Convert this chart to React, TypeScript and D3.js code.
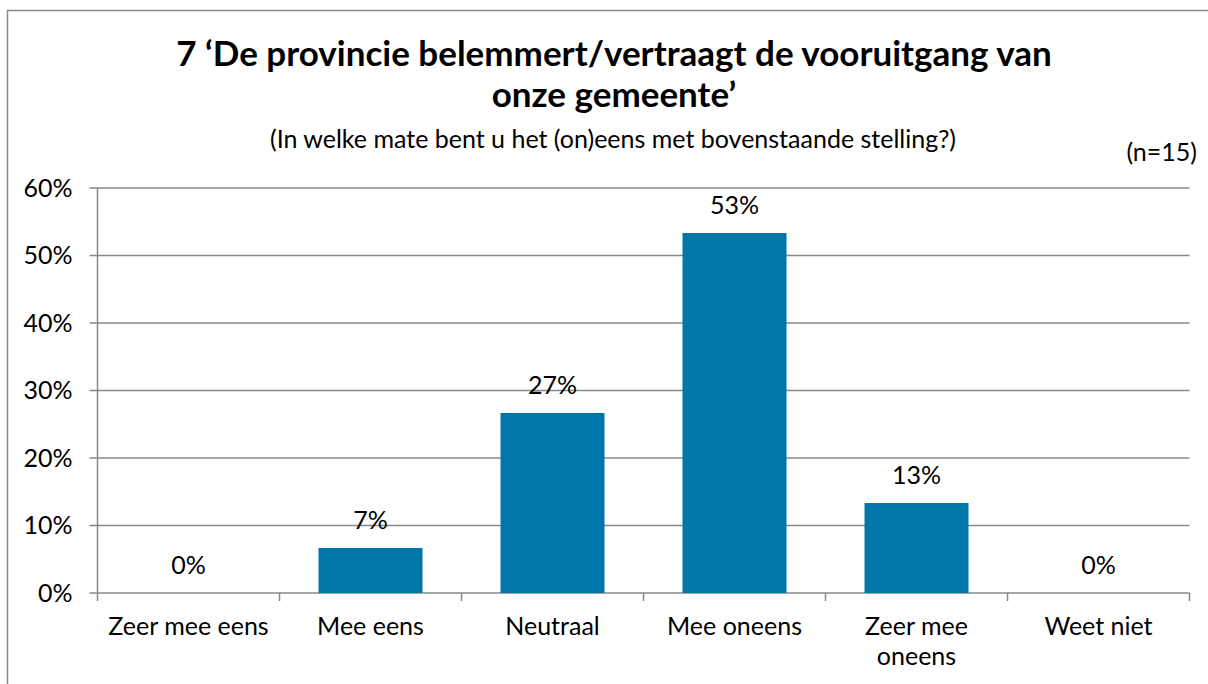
import React from "react";
import * as d3 from "d3";

const categories = ["Zeer mee eens", "Mee eens", "Neutraal", "Mee oneens", "Zeer mee oneens", "Weet niet"];
const categoryLines = [["Zeer mee eens"], ["Mee eens"], ["Neutraal"], ["Mee oneens"], ["Zeer mee", "oneens"], ["Weet niet"]];
const values = [0, 6.67, 26.67, 53.33, 13.33, 0];
const valueLabels = ["0%", "7%", "27%", "53%", "13%", "0%"];
const yTicks = [0, 10, 20, 30, 40, 50, 60];
const titleLines = ["7 \u2018De provincie belemmert/vertraagt de vooruitgang van", "onze gemeente\u2019"];
const subtitle = "(In welke mate bent u het (on)eens met bovenstaande stelling?)";
const nLabel = "(n=15)";

const W = 1208;
const H = 684;
const FONT = "Lato, 'Open Sans', sans-serif";
const GRID = "#898989";
const BAR = "#0076AB";

export default function App() {
  const left = 97.5;
  const right = 1189.5;
  const top = 188;
  const bottom = 593;
  const x = d3.scaleBand<string>().domain(categories).range([left, right]).paddingInner(0.4286).paddingOuter(0.2143);
  const y = d3.scaleLinear().domain([0, 60]).range([bottom, top]);
  const step = x.step();
  const cx = (c: string) => (x(c) as number) + x.bandwidth() / 2;

  return (
    <svg width={W} height={H} style={{ position: "absolute", left: 0, top: 0, background: "#fff" }} fontFamily={FONT}>
      <rect x={0} y={0} width={W} height={H} fill="#fff" />
      <rect x={7.5} y={10.5} width={W + 20} height={H + 20} fill="none" stroke={GRID} strokeWidth={1.5} />
      {titleLines.map((t, i) => (
        <text key={i} x={614} y={66 + i * 41} textAnchor="middle" fontSize={35} fontWeight="bold" fill="#000">
          {t}
        </text>
      ))}
      <text x={613} y={148} textAnchor="middle" fontSize={25} fill="#000">
        {subtitle}
      </text>
      <text x={1197} y={161} textAnchor="end" fontSize={25} fill="#000">
        {nLabel}
      </text>
      {yTicks.map((t) => (
        <g key={t}>
          <line x1={left - 8} x2={right} y1={y(t)} y2={y(t)} stroke={GRID} strokeWidth={1.5} />
          <text x={left - 25} y={y(t)} dy="0.35em" textAnchor="end" fontSize={25} fill="#000">
            {t + "%"}
          </text>
        </g>
      ))}
      <line x1={left} x2={left} y1={top} y2={bottom + 8} stroke={GRID} strokeWidth={1.5} />
      {categories.map((c, i) => (
        <line key={"t" + i} x1={left + step * (i + 1)} x2={left + step * (i + 1)} y1={bottom} y2={bottom + 8} stroke={GRID} strokeWidth={1.5} />
      ))}
      {categories.map((c, i) => (
        <rect key={"b" + i} x={x(c)} y={y(values[i])} width={x.bandwidth()} height={bottom - y(values[i])} fill={BAR} />
      ))}
      {categories.map((c, i) => (
        <text key={"v" + i} x={cx(c)} y={y(values[i]) - 19} textAnchor="middle" fontSize={25} fill="#000">
          {valueLabels[i]}
        </text>
      ))}
      {categories.map((c, i) => (
        <text key={"c" + i} x={cx(c)} y={635} textAnchor="middle" fontSize={25} fill="#000">
          {categoryLines[i].map((l, j) => (
            <tspan key={j} x={cx(c)} dy={j === 0 ? 0 : 30}>
              {l}
            </tspan>
          ))}
        </text>
      ))}
    </svg>
  );
}
